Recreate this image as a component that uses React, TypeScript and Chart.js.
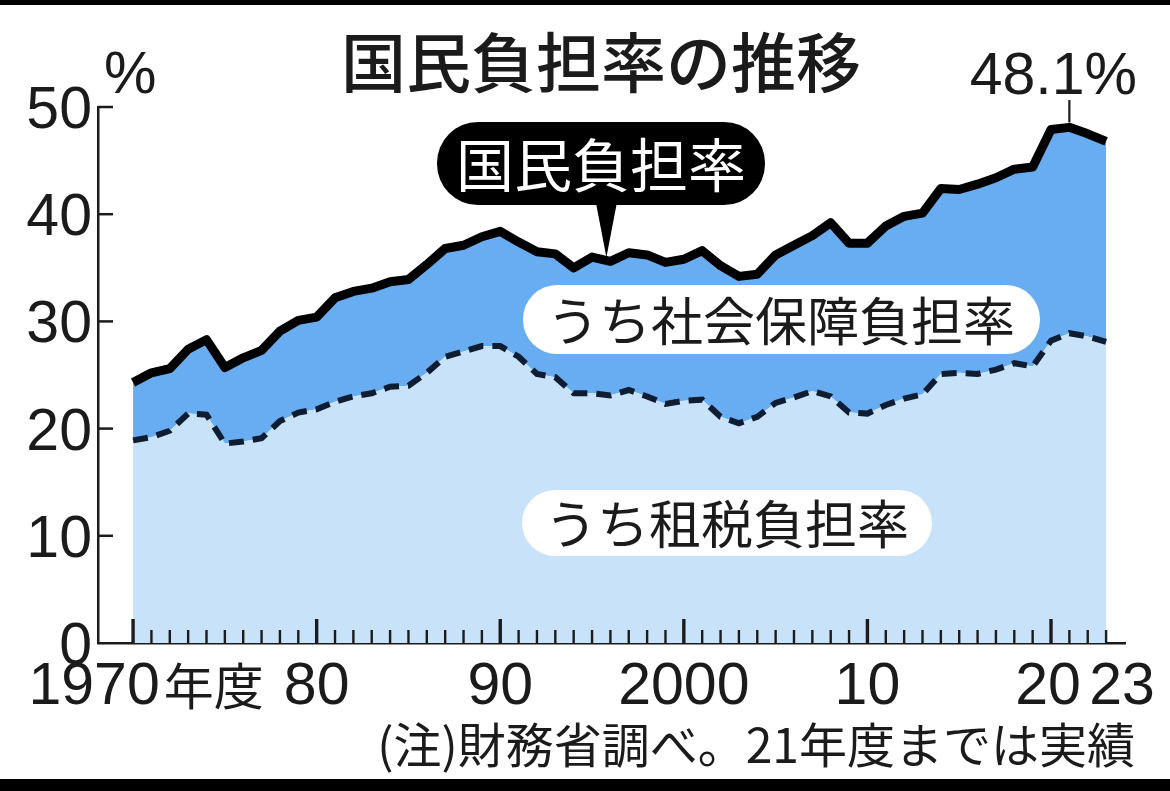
import { useEffect, useRef } from "react";
import Chart from "chart.js/auto";

// 年度
const years = [
  1970, 1971, 1972, 1973, 1974, 1975, 1976, 1977, 1978, 1979,
  1980, 1981, 1982, 1983, 1984, 1985, 1986, 1987, 1988, 1989,
  1990, 1991, 1992, 1993, 1994, 1995, 1996, 1997, 1998, 1999,
  2000, 2001, 2002, 2003, 2004, 2005, 2006, 2007, 2008, 2009,
  2010, 2011, 2012, 2013, 2014, 2015, 2016, 2017, 2018, 2019,
  2020, 2021, 2022, 2023,
];

// 国民負担率 (%)
const totalRate = [
  24.3, 25.2, 25.6, 27.4, 28.3, 25.7, 26.6, 27.3, 29.1, 30.1,
  30.4, 32.2, 32.8, 33.1, 33.7, 33.9, 35.3, 36.8, 37.1, 37.9,
  38.4, 37.4, 36.5, 36.3, 35.0, 36.0, 35.6, 36.4, 36.2, 35.5,
  35.8, 36.6, 35.2, 34.2, 34.4, 36.2, 37.1, 38.0, 39.2, 37.3,
  37.3, 38.9, 39.8, 40.1, 42.4, 42.3, 42.8, 43.4, 44.2, 44.4,
  47.9, 48.1, 47.5, 46.8,
];

// うち租税負担率 (%)
const taxRate = [
  18.9, 19.2, 19.8, 21.4, 21.3, 18.6, 18.8, 19.1, 20.7, 21.5,
  21.8, 22.5, 23.0, 23.3, 23.9, 24.0, 25.2, 26.7, 27.2, 27.7,
  27.7, 26.7, 25.1, 24.8, 23.3, 23.3, 23.1, 23.6, 23.0, 22.3,
  22.6, 22.7, 21.1, 20.5, 21.1, 22.4, 22.9, 23.5, 23.0, 21.5,
  21.4, 22.2, 22.8, 23.2, 25.1, 25.2, 25.1, 25.5, 26.1, 25.8,
  28.2, 28.9, 28.6, 28.1,
];

const xTickYears = [1970, 1980, 1990, 2000, 2010, 2020, 2023];
const xTickLabels = ["1970年度", "80", "90", "2000", "10", "20", "23"];
const yTickValues = [0, 10, 20, 30, 40, 50];

const DARK = "#68acf1";
const LIGHT = "#c8e3f9";
const INK = "#1b1b1b";
const NUM = '"Liberation Sans", Arial, sans-serif';
const JP = '"Noto Sans CJK JP", sans-serif';

const decor = {
  id: "decor",
  beforeDraw(chart: Chart) {
    const { ctx, width, height } = chart;
    ctx.save();
    ctx.fillStyle = "#ffffff";
    ctx.fillRect(0, 0, width, height);
    ctx.fillStyle = "#000000";
    ctx.fillRect(0, 0, width, 5);
    ctx.fillRect(0, height - 12, width, 12);
    ctx.restore();
  },
  afterDraw(chart: Chart) {
    const { ctx, chartArea } = chart;
    const xs = chart.scales.x;
    const ys = chart.scales.y;
    const base = ys.getPixelForValue(0);
    ctx.save();

    // 目盛り (x)
    ctx.strokeStyle = INK;
    years.forEach((yr) => {
      const px = xs.getPixelForValue(yr);
      const major = yr % 10 === 0;
      ctx.lineWidth = major ? 3.4 : 2.4;
      ctx.beginPath();
      ctx.moveTo(px, base);
      ctx.lineTo(px, base - (major ? 24 : 13));
      ctx.stroke();
    });

    // 目盛り (y)
    ctx.lineWidth = 2.5;
    yTickValues.forEach((v) => {
      if (v === 0) return;
      const py = ys.getPixelForValue(v);
      ctx.beginPath();
      ctx.moveTo(chartArea.left, py);
      ctx.lineTo(chartArea.left + 15, py);
      ctx.stroke();
    });

    ctx.fillStyle = INK;
    ctx.textBaseline = "alphabetic";

    // y labels
    ctx.font = `400 59px ${NUM}`;
    ctx.textAlign = "right";
    yTickValues.forEach((v) => {
      ctx.fillText(String(v), chartArea.left - 6, ys.getPixelForValue(v) + 21);
    });

    // x labels
    xTickLabels.forEach((lab, i) => {
      const px = xs.getPixelForValue(xTickYears[i]);
      const m = lab.match(/^(\d+)(.*)$/);
      const digits = m ? m[1] : lab;
      const rest = m ? m[2] : "";
      ctx.font = `400 59px ${NUM}`;
      const w1 = ctx.measureText(digits).width;
      ctx.font = `400 50px ${JP}`;
      const w2 = rest ? ctx.measureText(rest).width + 4 : 0;
      let cx = px;
      if (i === 0) cx = px + 13;
      if (i === xTickLabels.length - 1) cx = px + 16;
      if (i === xTickLabels.length - 2) cx = px - 3;
      const x0 = cx - (w1 + w2) / 2;
      ctx.textAlign = "left";
      ctx.font = `400 59px ${NUM}`;
      ctx.fillText(digits, x0, base + 61);
      if (rest) {
        ctx.font = `400 50px ${JP}`;
        ctx.fillText(rest, x0 + w1 + 4, base + 62);
      }
    });

    // %
    ctx.font = `400 59px ${NUM}`;
    ctx.textAlign = "left";
    ctx.fillText("%", chartArea.left + 6, 93);

    // title
    ctx.font = `500 65px ${JP}`;
    ctx.textAlign = "center";
    ctx.textBaseline = "middle";
    ctx.fillText("国民負担率の推移", 601, 62);

    // peak label
    const i21 = years.indexOf(2021);
    const p21x = xs.getPixelForValue(2021);
    const p21y = ys.getPixelForValue(totalRate[i21]);
    ctx.textBaseline = "alphabetic";
    ctx.font = `400 59px ${NUM}`;
    ctx.fillText(`${totalRate[i21].toFixed(1)}%`, p21x - 16, 94);
    ctx.lineWidth = 2.2;
    ctx.beginPath();
    ctx.moveTo(p21x, 100);
    ctx.lineTo(p21x, p21y - 5);
    ctx.stroke();

    // black callout
    const i96 = years.indexOf(1996);
    const tipX = xs.getPixelForValue(1996) - 4;
    const tipY = ys.getPixelForValue(totalRate[i96]) - 4;
    ctx.fillStyle = "#000000";
    ctx.beginPath();
    ctx.roundRect(437, 122, 328, 83, 41);
    ctx.fill();
    ctx.beginPath();
    ctx.moveTo(tipX - 11, 200);
    ctx.lineTo(tipX + 11, 200);
    ctx.lineTo(tipX, tipY);
    ctx.closePath();
    ctx.fill();
    ctx.fillStyle = "#ffffff";
    ctx.font = `400 58px ${JP}`;
    ctx.textBaseline = "middle";
    ctx.fillText("国民負担率", 601, 165);

    // white callouts
    ctx.beginPath();
    ctx.roundRect(523, 285, 517, 69, 34);
    ctx.fill();
    ctx.beginPath();
    ctx.roundRect(522, 490, 410, 66, 33);
    ctx.fill();
    ctx.fillStyle = INK;
    ctx.font = `400 52px ${JP}`;
    ctx.fillText("うち社会保障負担率", 781, 321);
    ctx.fillText("うち租税負担率", 727, 524);

    // note
    ctx.textAlign = "right";
    ctx.textBaseline = "alphabetic";
    ctx.font = `400 48px ${JP}`;
    ctx.fillText("(注)財務省調べ。21年度までは実績", 1135, 763);

    ctx.restore();
  },
};

export default function App() {
  const canvasRef = useRef<HTMLCanvasElement>(null);
  const chartRef = useRef<Chart | null>(null);

  useEffect(() => {
    document.body.style.margin = "0";
    if (!canvasRef.current) return;
    if (chartRef.current) chartRef.current.destroy();

    chartRef.current = new Chart(canvasRef.current, {
      type: "line",
      data: {
        datasets: [
          {
            label: "うち租税負担率",
            data: years.map((yr, i) => ({ x: yr, y: taxRate[i] })),
            fill: "origin",
            backgroundColor: LIGHT,
            borderColor: "#0f1d33",
            borderWidth: 6,
            borderDash: [15, 9],
            pointRadius: 0,
            tension: 0,
          },
          {
            label: "国民負担率",
            data: years.map((yr, i) => ({ x: yr, y: totalRate[i] })),
            fill: "-1",
            backgroundColor: DARK,
            borderColor: "#000000",
            borderWidth: 9,
            borderJoinStyle: "round",
            pointRadius: 0,
            tension: 0,
          },
        ],
      },
      options: {
        responsive: false,
        animation: false,
        layout: { padding: { top: 107, right: 45, left: 0, bottom: 0 } },
        plugins: {
          legend: { display: false },
          tooltip: { enabled: false },
        },
        scales: {
          x: {
            type: "linear",
            min: 1968.09,
            max: 2024.03,
            z: 1,
            ticks: { display: false },
            grid: { display: false, drawTicks: false },
            border: { display: true, color: INK, width: 2.5 },
            afterFit: (s: any) => {
              s.height = 148;
            },
          },
          y: {
            min: 0,
            max: 50,
            z: 1,
            ticks: { display: false },
            grid: { display: false, drawTicks: false },
            border: { display: true, color: INK, width: 2.5 },
            afterFit: (s: any) => {
              s.width = 98;
            },
          },
        },
      },
      plugins: [decor],
    });

    return () => {
      if (chartRef.current) {
        chartRef.current.destroy();
        chartRef.current = null;
      }
    };
  }, []);

  return (
    <div style={{ width: 1170, height: 791, background: "#fff" }}>
      <canvas ref={canvasRef} width={1170} height={791} style={{ display: "block" }} />
    </div>
  );
}
